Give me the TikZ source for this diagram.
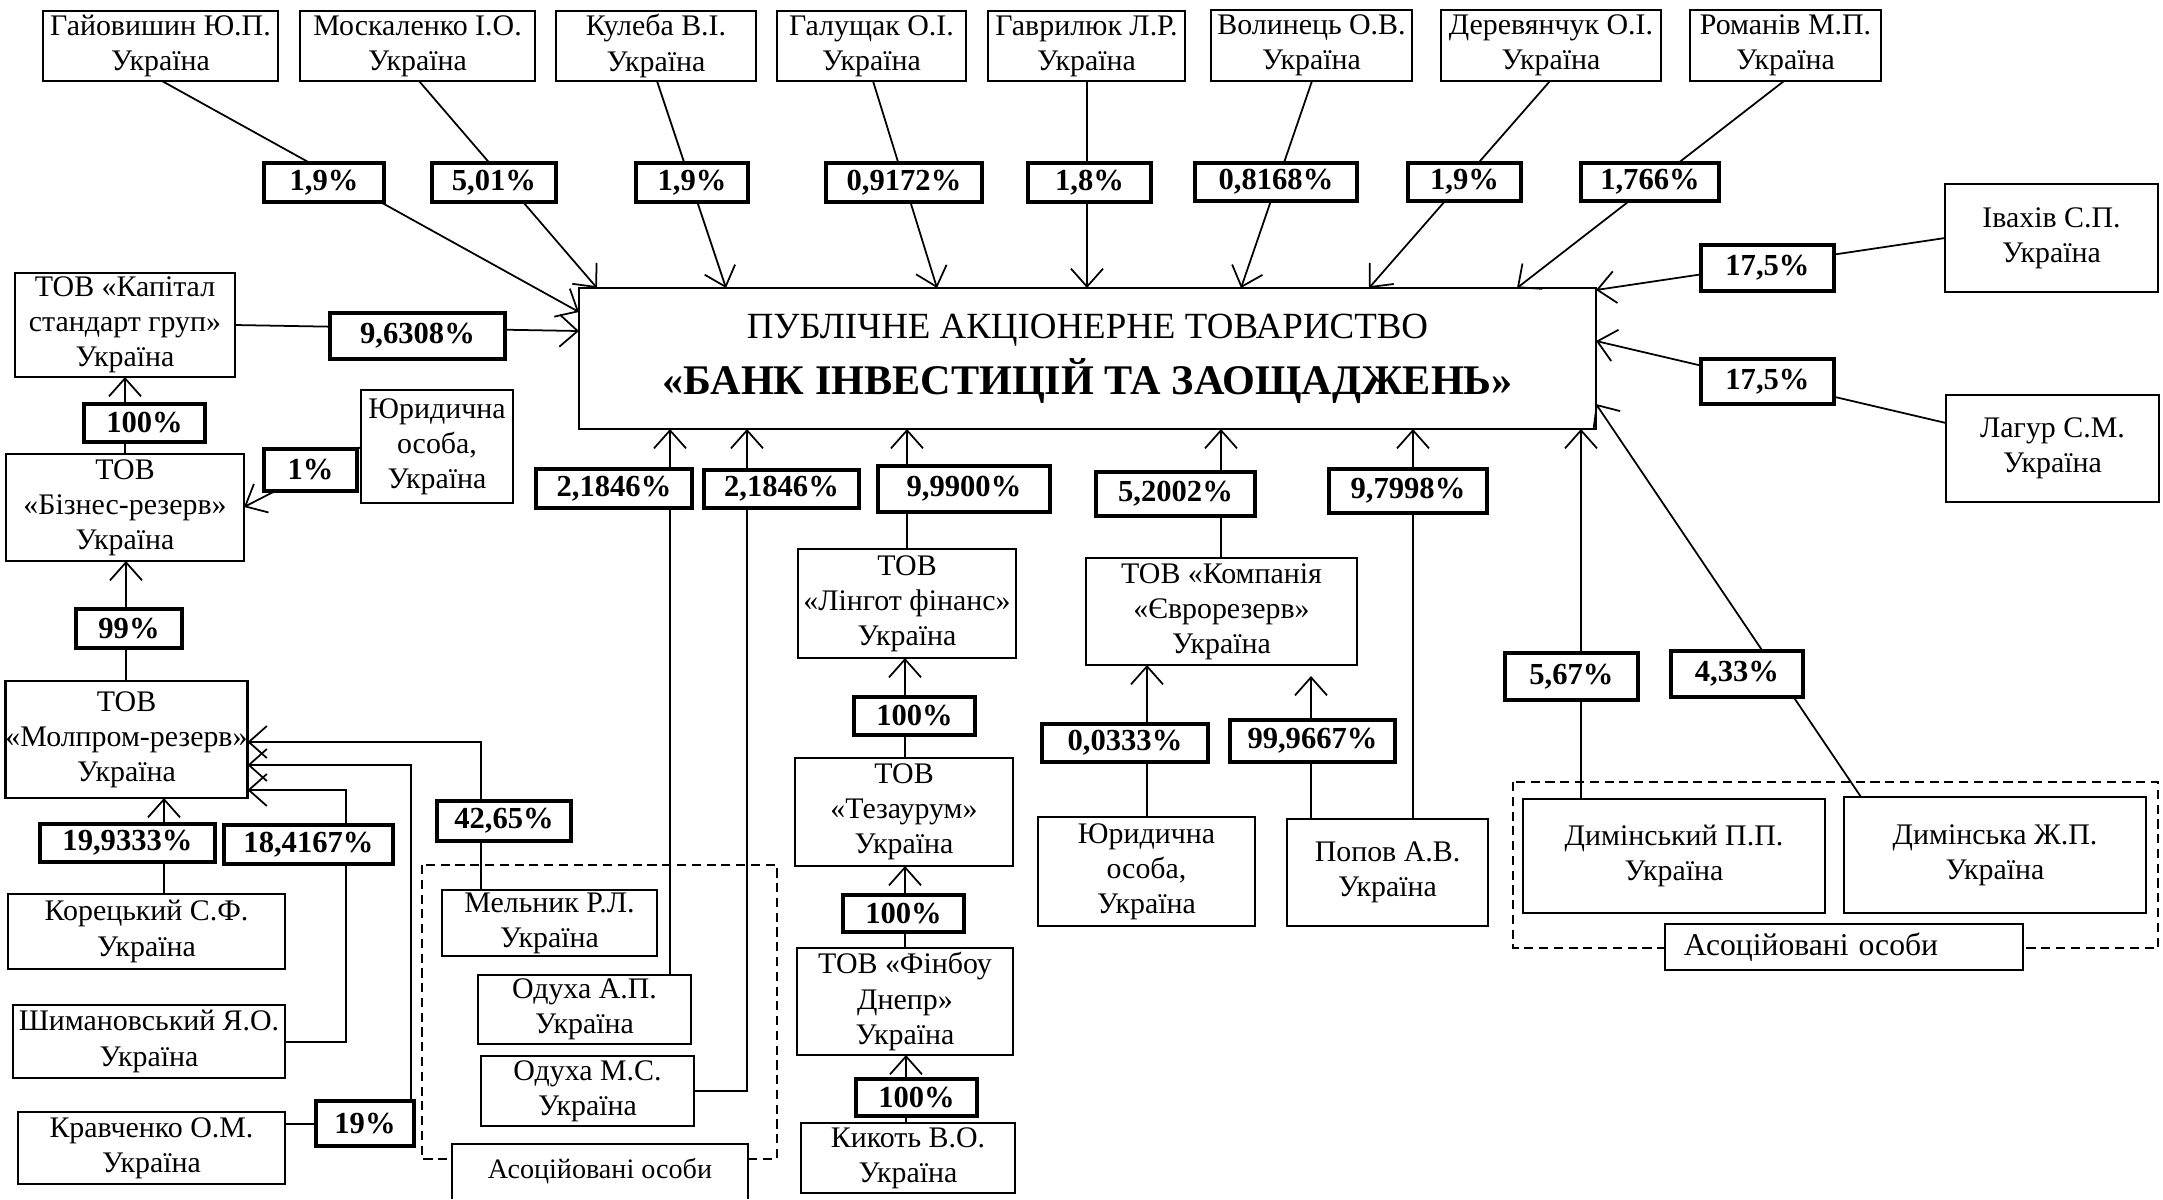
\documentclass[tikz,border=0pt]{standalone}
\usepackage{fontspec}
\setmainfont{Liberation Serif}
\usetikzlibrary{arrows.meta}
\tikzset{
 box/.style={draw,line width=0.6pt,fill=white,inner sep=0pt,outer sep=0pt,align=center,font=\fontsize{8.5}{10}\selectfont},
 pct/.style={draw,line width=1.1pt,fill=white,inner sep=0pt,outer sep=0pt,font=\fontsize{8.7}{10}\selectfont\bfseries},
 conn/.style={line width=0.5pt},
 grp/.style={dash pattern=on 2.6pt off 1.6pt,line width=0.5pt},
 >={Straight Barb[length=1.8mm,width=3.2mm]},
}
\newcommand\bx[7]{%
 \pgfmathsetmacro\bxw{(#4-#2)*0.01}%
 \pgfmathsetmacro\bxh{(#5-#3)*0.01}%
 \node[#6,minimum width=\bxw cm,minimum height=\bxh cm] (#1) at ({(#2+#4)/2},{(#3+#5)/2}) {#7};}
\begin{document}
\begin{tikzpicture}[x=0.01cm,y=-0.01cm]
\useasboundingbox (0,0) rectangle (2163,1199);
% group frames
\draw[grp] (422,865) rectangle (777,1159);
\draw[grp] (1513,782) rectangle (2158,948);
% main
\bx{main}{579}{288}{1596}{429}{box}{\fontsize{10.5}{15}\selectfont ПУБЛІЧНЕ АКЦІОНЕРНЕ ТОВАРИСТВО\\[2.5pt]{\fontsize{12}{15}\selectfont\bfseries «БАНК ІНВЕСТИЦІЙ ТА ЗАОЩАДЖЕНЬ»}}
% top row
\bx{g1}{43}{11}{278}{81}{box}{Гайовишин Ю.П.\\Україна}
\bx{g2}{300}{11}{535}{81}{box}{Москаленко І.О.\\Україна}
\bx{g3}{556}{11}{756}{81}{box}{Кулеба В.І.\\Україна}
\bx{g4}{777}{11}{966}{81}{box}{Галущак О.І.\\Україна}
\bx{g5}{988}{11}{1185}{81}{box}{Гаврилюк Л.Р.\\Україна}
\bx{g6}{1211}{10}{1412}{81}{box}{Волинець О.В.\\Україна}
\bx{g7}{1441}{10}{1661}{81}{box}{Деревянчук О.І.\\Україна}
\bx{g8}{1690}{10}{1881}{81}{box}{Романів М.П.\\Україна}
% right
\bx{iv}{1945}{184}{2158}{292}{box}{Івахів С.П.\\Україна}
\bx{la}{1946}{395}{2159}{502}{box}{Лагур С.М.\\Україна}
\bx{dm1}{1523}{799}{1825}{913}{box}{Димінський П.П.\\Україна}
\bx{dm2}{1844}{797}{2146}{913}{box}{Димінська Ж.П.\\Україна}
% left
\bx{kap}{15}{273}{235}{377}{box}{ТОВ «Капітал\\стандарт груп»\\Україна}
\bx{biz}{6}{454}{244}{561}{box}{ТОВ\\«Бізнес-резерв»\\Україна}
\bx{yur1}{361}{390}{513}{503}{box}{Юридична\\особа,\\Україна}
\bx{mol}{7}{681}{246}{798}{box}{ТОВ\\«Молпром-резерв»\\Україна}
\bx{kor}{8}{894}{285}{969}{box}{Корецький С.Ф.\\Україна}
\bx{shim}{13}{1005}{285}{1078}{box}{Шимановський Я.О.\\Україна}
\bx{krav}{18}{1112}{285}{1184}{box}{Кравченко О.М.\\Україна}
\bx{mel}{442}{890}{657}{956}{box}{Мельник Р.Л.\\Україна}
\bx{odA}{478}{975}{691}{1044}{box}{Одуха А.П.\\Україна}
\bx{odM}{481}{1056}{694}{1126}{box}{Одуха М.С.\\Україна}
% middle
\bx{lin}{798}{549}{1016}{658}{box}{ТОВ\\«Лінгот фінанс»\\Україна}
\bx{tez}{795}{758}{1013}{866}{box}{ТОВ\\«Тезаурум»\\Україна}
\bx{fin}{797}{948}{1013}{1055}{box}{ТОВ «Фінбоу\\Днепр»\\Україна}
\bx{kik}{801}{1123}{1015}{1193}{box}{Кикоть В.О.\\Україна}
\bx{evr}{1086}{558}{1357}{665}{box}{ТОВ «Компанія\\«Єврорезерв»\\Україна}
\bx{yur2}{1038}{817}{1255}{926}{box}{Юридична\\особа,\\Україна}
\bx{pop}{1287}{819}{1488}{926}{box}{Попов А.В.\\Україна}
% group captions
\bx{aL}{452}{1144}{748}{1199}{box,draw=none}{\fontsize{8}{10}\selectfont Асоційовані особи}
\draw[line width=0.6pt] (aL.south west) -- (aL.north west) -- (aL.north east) -- (aL.south east);
\bx{aR}{1665}{924}{2023}{970}{box,text width=3.2cm,align=left}{\fontsize{9}{10}\selectfont Асоційовані особи}
% connectors
\draw[conn,->] (g1.south -| 162,0) -- (main.west |- 0,312);
\draw[conn,->] (g2.south -| 419,0) -- (main.north -| 597,0);
\draw[conn,->] (g3.south -| 657,0) -- (main.north -| 726,0);
\draw[conn,->] (g4.south -| 873,0) -- (main.north -| 937,0);
\draw[conn,->] (g5.south -| 1087,0) -- (main.north -| 1087,0);
\draw[conn,->] (g6.south -| 1312,0) -- (main.north -| 1241,0);
\draw[conn,->] (g7.south -| 1550,0) -- (main.north -| 1369,0);
\draw[conn,->] (g8.south -| 1784,0) -- (main.north -| 1517,0);
\draw[conn,->] (iv.west |- 0,238) -- (main.east |- 0,290);
\draw[conn,->] (la.west |- 0,423) -- (main.east |- 0,341);
\draw[conn,->] (dm1.north -| 1581,0) -- (main.south -| 1581,0);
\draw[conn,->] (dm2.north -| 1861,0) -- (main.east |- 0,404);
\draw[conn,->] (kap.east |- 0,325) -- (main.west |- 0,331);
\draw[conn,->] (biz.north -| 125,0) -- (kap.south -| 125,0);
\draw[conn,->] (yur1.west |- 0,447) -- (biz.east |- 0,507);
\draw[conn,->] (mol.north -| 126,0) -- (biz.south -| 126,0);
\draw[conn,->] (kor.north -| 164,0) -- (mol.south -| 164,0);
\draw[conn,->] (shim.east |- 0,1042) -| (346,790) -- (mol.east |- 0,790);
\draw[conn,->] (krav.east |- 0,1124) -| (411,765) -- (mol.east |- 0,765);
\draw[conn,->] (mel.north -| 481,0) |- (mol.east |- 0,742);
\draw[conn,->] (odA.north -| 670,0) -- (main.south -| 670,0);
\draw[conn,->] (odM.east |- 0,1091) -| (main.south -| 747,0);
\draw[conn,->] (lin.north -| 907,0) -- (main.south -| 907,0);
\draw[conn,->] (tez.north -| 905,0) -- (lin.south -| 905,0);
\draw[conn,->] (fin.north -| 905,0) -- (tez.south -| 905,0);
\draw[conn,->] (kik.north -| 906,0) -- (fin.south -| 906,0);
\draw[conn,->] (evr.north -| 1221,0) -- (main.south -| 1221,0);
\draw[conn,->] (yur2.north -| 1147,0) -- (evr.south -| 1147,0);
\draw[conn,->,shorten >=0.11cm] (pop.north -| 1311,0) -- (evr.south -| 1311,0);
\draw[conn,->] (pop.north -| 1413,0) -- (main.south -| 1413,0);
% percentage labels
\bx{p1}{264}{163}{384}{202}{pct}{1,9\%}
\bx{p2}{432}{163}{556}{202}{pct}{5,01\%}
\bx{p3}{636}{163}{748}{202}{pct}{1,9\%}
\bx{p4}{826}{163}{982}{202}{pct}{0,9172\%}
\bx{p5}{1028}{163}{1151}{202}{pct}{1,8\%}
\bx{p6}{1195}{163}{1357}{201}{pct}{0,8168\%}
\bx{p7}{1408}{163}{1521}{201}{pct}{1,9\%}
\bx{p8}{1581}{163}{1719}{201}{pct}{1,766\%}
\bx{r1}{1701}{245}{1834}{291}{pct}{17,5\%}
\bx{r2}{1701}{359}{1834}{404}{pct}{17,5\%}
\bx{d1}{1505}{653}{1638}{700}{pct}{5,67\%}
\bx{d2}{1671}{651}{1803}{697}{pct}{4,33\%}
\bx{k1}{330}{313}{505}{359}{pct}{9,6308\%}
\bx{k2}{84}{404}{205}{442}{pct}{100\%}
\bx{k3}{264}{449}{357}{491}{pct}{1\%}
\bx{k4}{76}{609}{182}{648}{pct}{99\%}
\bx{k5}{40}{824}{215}{862}{pct}{19,9333\%}
\bx{k6}{224}{825}{393}{864}{pct}{18,4167\%}
\bx{k7}{437}{801}{571}{841}{pct}{42,65\%}
\bx{k8}{316}{1101}{414}{1146}{pct}{19\%}
\bx{m1}{536}{469}{692}{508}{pct}{2,1846\%}
\bx{m2}{704}{470}{859}{508}{pct}{2,1846\%}
\bx{m3}{878}{466}{1050}{512}{pct}{9,9900\%}
\bx{m4}{854}{697}{975}{735}{pct}{100\%}
\bx{m5}{843}{895}{964}{932}{pct}{100\%}
\bx{m6}{856}{1079}{977}{1116}{pct}{100\%}
\bx{e1}{1096}{472}{1255}{516}{pct}{5,2002\%}
\bx{e2}{1329}{469}{1487}{513}{pct}{9,7998\%}
\bx{e3}{1042}{724}{1208}{762}{pct}{0,0333\%}
\bx{e4}{1230}{720}{1395}{762}{pct}{99,9667\%}
\end{tikzpicture}
\end{document}
